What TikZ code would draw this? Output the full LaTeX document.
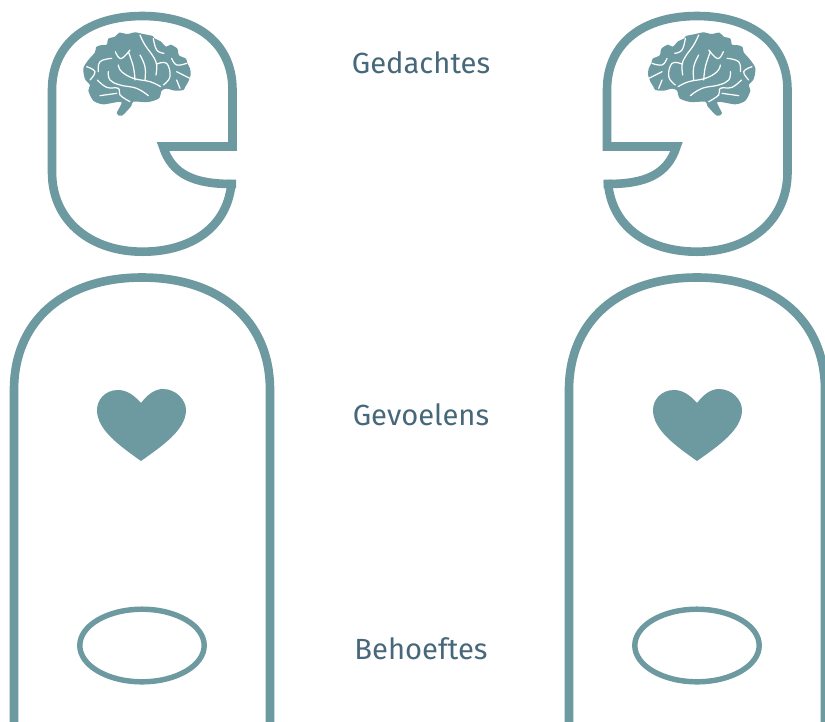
\documentclass[tikz,border=0pt]{standalone}
\usepackage{fontspec}
\setmainfont{Fira Sans}
\definecolor{figteal}{RGB}{108, 154, 160}
\definecolor{labelblue}{RGB}{70, 104, 122}
\tikzset{
  figline/.style={figteal, line width=4.9pt, line join=miter},
  figfill/.style={fill=figteal, draw=none},
  sulcus/.style={white, line width=0.7pt, line cap=round, smooth, tension=0.7},
  levellabel/.style={text=labelblue, anchor=base, inner sep=0pt, font=\fontsize{16.6}{20}\selectfont},
  pics/head/.style={code={
    \draw[figline] (163,146.5) -- (232.5,146.5) -- (232.5,90)
      .. controls (232.5,42) and (195,16) .. (142.5,16)
      .. controls (90,16) and (52,42) .. (52,90) -- (52,172)
      .. controls (52,222) and (92,251.7) .. (142.5,251.7)
      .. controls (190,251.7) and (229,228) .. (231.7,180);
    \draw[figline] (236,184) -- (232,184) .. controls (195,184) and (172,175) .. (163,146.5) -- (170,146.5);
  }},
  pics/body/.style={code={
    \draw[figline] (14,730) -- (14,390)
      .. controls (14,320) and (65,277.5) .. (142,277.5)
      .. controls (219,277.5) and (270,320) .. (270,390) -- (270,730);
    \draw[figteal, line width=3.1pt] (142,645.5) ellipse (62.2 and 36.3);
  }},
  pics/heart/.style={code={
    \fill[figfill] (141,403) .. controls (133,394) and (126,390) .. (118,390)
      .. controls (105,390) and (97,400) .. (97,410)
      .. controls (97,430) and (120,446) .. (141,461)
      .. controls (162,446) and (186,430) .. (186,410)
      .. controls (186,400) and (176,389) .. (163,389)
      .. controls (155,389) and (148,394) .. (141,403) -- cycle;
  }},
  pics/brain/.style={code={
    \begin{scope}[x=0.00667cm, y=-0.00667cm]
    % outline
    \fill[figfill] plot[smooth cycle, tension=0.45] coordinates {
      (165,157) (168,142) (180,136) (200,134) (205,116) (225,110) (238,98) (262,102)
      (285,97) (310,102) (338,108) (345,116) (362,124) (378,140) (392,134) (412,146)
      (417,166) (438,176) (442,190) (450,205) (452,225) (445,245) (436,260)
      (430,270) (405,272) (380,266) (365,272) (357,295) (325,306) (280,305)
      (274,318) (246,347) (230,340) (244,306) (190,313) (160,302) (145,272)
      (150,255) (135,237) (130,205) (145,180)};
    % folds
    \draw[sulcus] plot coordinates {(300,105) (315,135) (340,170) (350,195) (348,225)};
    \draw[sulcus] plot coordinates {(340,115) (350,150) (372,160)};
    \draw[sulcus] plot coordinates {(226,155) (243,176) (270,150)};
    \draw[sulcus] plot coordinates {(175,215) (180,185) (215,175)};
    \draw[sulcus] plot coordinates {(265,155) (280,200) (285,240)};
    \draw[sulcus] plot coordinates {(300,165) (315,200) (315,240)};
    \draw[sulcus] plot coordinates {(235,195) (245,215) (280,235) (330,245) (362,260)};
    \draw[sulcus] plot coordinates {(205,215) (210,240) (240,255) (290,265) (325,287)};
    \draw[sulcus] plot coordinates {(172,240) (200,262) (235,265) (240,285) (270,305)};
    \draw[sulcus] plot coordinates {(180,287) (230,280)};
    \draw[sulcus] plot coordinates {(350,192) (380,190) (390,230) (370,255)};
    \draw[sulcus] plot coordinates {(140,200) (165,215) (150,240)};
    \draw[sulcus] plot coordinates {(395,175) (410,195) (440,190)};
    \draw[sulcus] plot coordinates {(410,215) (450,235)};
    \draw[sulcus] plot coordinates {(420,265) (410,240)};
    \end{scope}
  }}
}
\begin{document}
\begin{tikzpicture}[x=0.02cm, y=-0.02cm]
        \useasboundingbox (0,0) rectangle (825,721);
        \clip (0,0) rectangle (825,721);
        % Left figure
        \pic at (0,0) {head};
        \pic at (40,0) {brain};
        \pic at (0,0) {body};
        \pic at (0,0) {heart};
        % Right figure
        \pic[xscale=-1] at (839.5,0) {head};
        \pic[xscale=-1] at (798.7,0) {brain};
        \pic at (555,0) {body};
        \pic at (556,0) {heart};
        % Labels
        \node[levellabel] (gedachtes) at (421,73) {Gedachtes};
        \node[levellabel] (gevoelens) at (421,425) {Gevoelens};
        \node[levellabel] (behoeftes) at (421,659) {Behoeftes};
      \end{tikzpicture}
\end{document}
